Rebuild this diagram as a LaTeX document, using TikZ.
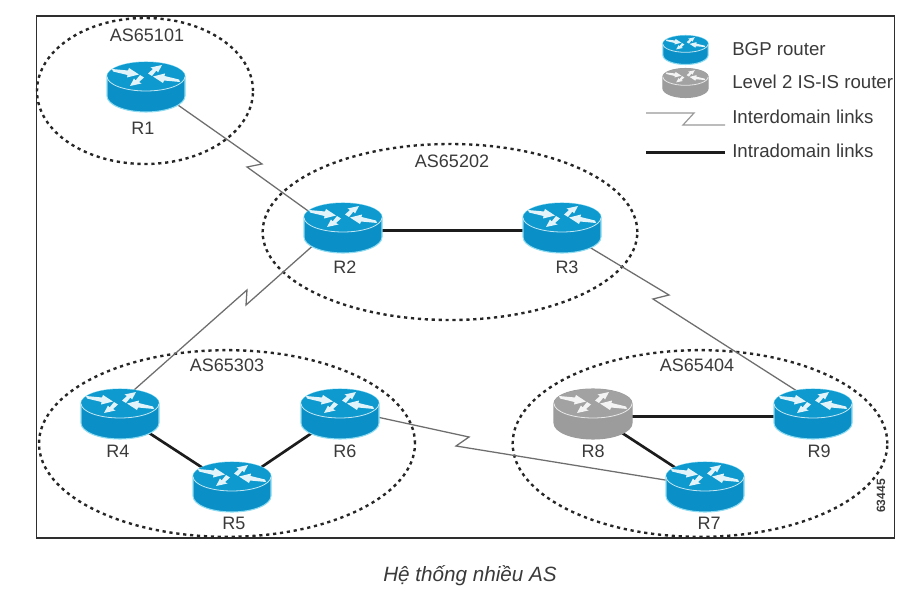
\documentclass[tikz,border=0pt]{standalone}
\usepackage{fontspec}
\setmainfont{Liberation Sans}
\usetikzlibrary{shapes.geometric}
\definecolor{ink}{HTML}{3A3A3A}
\definecolor{framec}{HTML}{2E2E2E}
\definecolor{dotc}{HTML}{262626}
\definecolor{wan}{HTML}{6E6E6E}
\definecolor{lan}{HTML}{1C1C1C}
\definecolor{blueb}{HTML}{0A8FC6}
\definecolor{bluet}{HTML}{0E9ACF}
\definecolor{blueh}{HTML}{8FDCF2}
\definecolor{grayb}{HTML}{9C9C9C}
\definecolor{grayt}{HTML}{A2A2A2}
\tikzset{
  asarea/.style={ellipse,draw=dotc,line width=1.8pt,dash pattern=on 2.4pt off 2.8pt,inner sep=0pt},
  spot/.style={ellipse,minimum width=58.5pt,minimum height=37.5pt,inner sep=0pt},
  smallspot/.style={ellipse,minimum width=34pt,minimum height=21pt,inner sep=0pt},
  wanlink/.style={draw=wan,line width=0.95pt,line join=miter},
  lanlink/.style={draw=lan,line width=2pt},
  lab/.style={text=ink,font=\fontsize{13.5}{15}\selectfont,inner sep=0pt},
  legendlab/.style={text=ink,font=\fontsize{14}{16}\selectfont,inner sep=0pt,anchor=west}
}
% #1 position, #2 scale, #3 body, #4 top, #5 halo
\newcommand{\routericon}[5]{%
  \begin{scope}[shift={#1},scale=#2]
    \path[fill=#3,draw=#5,line width=0.8pt] (-39,-10.5) .. controls (-39,-18.5) and (-21.5,-25) .. (0,-25)
      .. controls (21.5,-25) and (39,-18.5) .. (39,-10.5) -- (39,9)
      .. controls (39,17.8) and (21.5,25) .. (0,25) .. controls (-21.5,25) and (-39,17.8) .. (-39,9) -- cycle;
    \fill[#4] (-39,-10.5) .. controls (-39,-18.5) and (-21.5,-25) .. (0,-25)
      .. controls (21.5,-25) and (39,-18.5) .. (39,-10.5)
      .. controls (39,-2.5) and (21.5,4) .. (0,4) .. controls (-21.5,4) and (-39,-2.5) .. (-39,-10.5) -- cycle;
    \draw[white!75!#4,line width=0.6pt] (-39,-10.5) .. controls (-39,-2.5) and (-21.5,4) .. (0,4)
      .. controls (21.5,4) and (39,-2.5) .. (39,-10.5);
    \fill[white!88!#4] (-34,-18) -- (-18,-16.5) -- (-17,-19) -- (-7,-12.5) -- (-19,-9.5) -- (-18.5,-12) -- (-33,-15.5) -- cycle;
    \fill[white!88!#4] (34,-5) -- (18,-6.5) -- (17,-4) -- (7,-10.5) -- (19,-13.5) -- (18.5,-11) -- (33,-7.5) -- cycle;
    \fill[white!88!#4] (2,-13.5) -- (7,-18) -- (4.5,-19.5) -- (16,-22) -- (12,-14.5) -- (10.5,-16.5) -- (6,-11) -- cycle;
    \fill[white!88!#4] (-2,-9.5) -- (-7,-5) -- (-4.5,-3.5) -- (-16,-1) -- (-12,-8.5) -- (-10.5,-6.5) -- (-6,-12) -- cycle;
  \end{scope}}
\begin{document}
\begin{tikzpicture}[x=0.75pt,y=-0.75pt]
\useasboundingbox (0,0) rectangle (924,595);
\fill[white] (0,0) rectangle (924,595);
\node[draw=framec,line width=1pt,minimum width=643.5pt,minimum height=391.5pt,inner sep=0pt] (frame) at (465.5,277) {};
% AS areas
\node[asarea,minimum width=162pt,minimum height=109.5pt] (as1) at (145,91) {};
\node[asarea,minimum width=281pt,minimum height=132pt] (as2) at (450,232) {};
\node[asarea,minimum width=282pt,minimum height=140pt] (as3) at (227,443.5) {};
\node[asarea,minimum width=281pt,minimum height=140pt] (as4) at (700,443.5) {};
% router anchors
\node[spot] (r1) at (146,87) {};
\node[spot] (r2) at (343,228) {};
\node[spot] (r3) at (562,228) {};
\node[spot] (r4) at (120,414) {};
\node[spot] (r5) at (232,487) {};
\node[spot] (r6) at (340,414) {};
\node[spot] (r7) at (705,487) {};
\node[spot] (r8) at (593,414) {};
\node[spot] (r9) at (813,414) {};
\node[smallspot] (lg1) at (685.5,50) {};
\node[smallspot] (lg2) at (685.5,83) {};
% zigzag bends
\coordinate (z1a) at (262,164); \coordinate (z1b) at (247,167);
\coordinate (z2a) at (247,290); \coordinate (z2b) at (246,305);
\coordinate (z3a) at (669,295); \coordinate (z3b) at (653,299);
\coordinate (z4a) at (469,437); \coordinate (z4b) at (456,446);
\coordinate (l1a) at (646,113); \coordinate (l1b) at (694,113);
\coordinate (l1c) at (683,125); \coordinate (l1d) at (725,125);
\coordinate (l2a) at (646,152.5); \coordinate (l2b) at (725,152.5);
% links
\draw[wanlink] (r1.-29) -- (z1a) -- (z1b) -- (r2.155);
\draw[wanlink] (r4.60) -- (z2a) -- (z2b) -- (r2.210);
\draw[wanlink] (r3.-35) -- (z3a) -- (z3b) -- (r9.125);
\draw[wanlink] (r6.-5) -- (z4a) -- (z4b) -- (r7.170);
\draw[lanlink] (r2.-4) -- (r3.184);
\draw[lanlink] (r4) -- (r5);
\draw[lanlink] (r5) -- (r6);
\draw[lanlink] (r8) -- (r7);
\draw[lanlink] (r8.-4) -- (r9.184);
% router icons
\routericon{(r1.center)}{1}{blueb}{bluet}{blueh}
\routericon{(r2.center)}{1}{blueb}{bluet}{blueh}
\routericon{(r3.center)}{1}{blueb}{bluet}{blueh}
\routericon{(r4.center)}{1}{blueb}{bluet}{blueh}
\routericon{(r5.center)}{1}{blueb}{bluet}{blueh}
\routericon{(r6.center)}{1}{blueb}{bluet}{blueh}
\routericon{(r7.center)}{1}{blueb}{bluet}{blueh}
\routericon{(r8.center)}{1}{grayb}{grayt}{grayb}
\routericon{(r9.center)}{1}{blueb}{bluet}{blueh}
\routericon{(lg1.center)}{0.58}{blueb}{bluet}{blueh}
\routericon{(lg2.center)}{0.58}{grayb}{grayt}{grayb}
% labels
\node[lab] (t1) at (143,128) {R1};
\node[lab] (t2) at (345,267) {R2};
\node[lab] (t3) at (567,267) {R3};
\node[lab] (t4) at (118,451) {R4};
\node[lab] (t5) at (234,523) {R5};
\node[lab] (t6) at (345,451) {R6};
\node[lab] (t7) at (709,523) {R7};
\node[lab] (t8) at (593,451) {R8};
\node[lab] (t9) at (819,451) {R9};
\node[lab] (a1) at (147,35) {AS65101};
\node[lab] (a2) at (452,161) {AS65202};
\node[lab] (a3) at (227,365) {AS65303};
\node[lab] (a4) at (697,365) {AS65404};
% legend
\draw[draw=wan!70,line width=0.9pt] (l1a) -- (l1b) -- (l1c) -- (l1d);
\draw[lanlink] (l2a) -- (l2b);
\node[legendlab] (k1) at (732,49) {BGP router};
\node[legendlab] (k2) at (732,82) {Level 2 IS-IS router};
\node[legendlab] (k3) at (732,117) {Interdomain links};
\node[legendlab] (k4) at (732,151) {Intradomain links};
% figure id and caption
\node[text=ink,font=\fontsize{9}{10}\selectfont\bfseries,rotate=90,inner sep=0pt] (fid) at (881,496) {63445};
\node[text=ink,font=\fontsize{15.5}{18}\selectfont\itshape,inner sep=0pt] (cap) at (470,576) {Hệ thống nhiều AS};
\end{tikzpicture}
\end{document}
